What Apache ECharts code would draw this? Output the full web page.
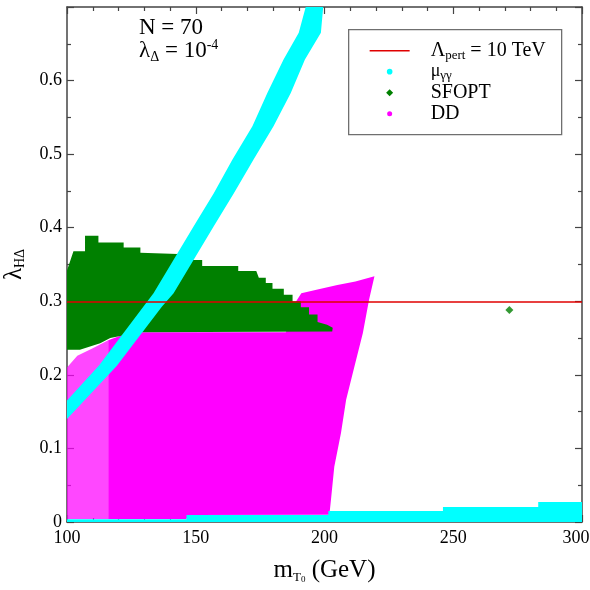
<!DOCTYPE html>
<html>
<head>
<meta charset="utf-8">
<script src="https://cdn.jsdelivr.net/npm/echarts@6/dist/echarts.min.js"></script>
<style>
  html, body { margin: 0; padding: 0; background: #fff; }
  #main { width: 590px; height: 590px; }
</style>
</head>
<body>
<div id="main"></div>
<script>
  // region outlines, [m_T0, lambda_HDelta]
  let muBand = [
    [100, 0.165], [112.5, 0.213], [129.7, 0.293], [133.6, 0.311], [141.4, 0.3565], [149.2, 0.402],
    [157, 0.447], [164.2, 0.4925], [172, 0.538], [177.8, 0.583], [184.1, 0.6286], [190, 0.665], [192.7, 0.7],
    [199.5, 0.7], [198.6, 0.665], [192.4, 0.6286], [186.9, 0.583], [180.2, 0.538], [172.4, 0.4925],
    [164.8, 0.447], [157, 0.402], [149.2, 0.3565], [141.4, 0.311], [136.9, 0.293], [119.3, 0.212], [100, 0.14]
  ];
  let muFloor = [
    [100, 0], [100, 0.0037], [146.4, 0.0037], [146.4, 0.0095], [201.5, 0.0095], [201.5, 0.015],
    [246, 0.015], [246, 0.0204], [283, 0.0204], [283, 0.0272], [300, 0.0272], [300, 0]
  ];
  let sfoptRegion = [
    [100, 0.234], [100, 0.342], [102.5, 0.368], [107, 0.368], [107, 0.389], [112.2, 0.389],
    [112.2, 0.38], [122, 0.38], [122, 0.373], [128.5, 0.373], [128.5, 0.366], [146, 0.364],
    [146, 0.356], [152.5, 0.356], [152.5, 0.348], [166.5, 0.348], [166.5, 0.341], [173.5, 0.341],
    [174.5, 0.332], [177.2, 0.332], [177.2, 0.325], [179.8, 0.325], [179.8, 0.317], [184.2, 0.317],
    [184.2, 0.309], [187.6, 0.309], [187.6, 0.3], [190.8, 0.3], [190.8, 0.292], [194, 0.292],
    [194, 0.282], [197.3, 0.282], [197.3, 0.272], [201, 0.268], [203.2, 0.264], [203, 0.259],
    [128, 0.258], [116.8, 0.25], [112.9, 0.243], [105, 0.234]
  ];
  let sfoptPoint = [[271.8, 0.288]];
  let ddDense = [
    [116, 0.004], [116, 0.247], [122, 0.255], [128, 0.258], [185, 0.258], [189, 0.3], [191, 0.311],
    [197.3, 0.316], [205, 0.322], [212, 0.327], [219.4, 0.334], [217.3, 0.302], [214.9, 0.257],
    [211.6, 0.211], [208.4, 0.166], [206.4, 0.121], [203.8, 0.075], [202.5, 0.03], [201.9, 0.01],
    [147, 0.0095], [146.4, 0.004]
  ];
  let ddSparse = [[100, 0.004], [100, 0.21], [104, 0.226], [110, 0.236], [116, 0.247], [116, 0.004]];
  let pertLimit = 0.298;
  let xTicks = [100, 300, 50];
  let yTicks = [0, 0.7, 0.1];

  let font = "Liberation Serif";
  let axisColor = "#444";

  let chart = echarts.init(document.getElementById("main"));

  // polygon through the axes, drawn once per series
  function region(name, pts, color, z, opacity) {
    return {
      type: "custom",
      name: name,
      z: z,
      clip: true,
      silent: true,
      data: pts,
      encode: { x: 0, y: 1 },
      renderItem: function (params, api) {
        if (params.dataIndex !== 0) return null;
        return {
          type: "polygon",
          shape: { points: pts.map((p) => api.coord(p)) },
          style: { fill: color, opacity: opacity == null ? 1 : opacity },
        };
      },
    };
  }

  function axisBase(pos, show) {
    return {
      type: "value",
      position: pos,
      axisLine: { show: true, onZero: false, lineStyle: { color: axisColor, width: 1.5 } },
      axisTick: { show: true, inside: true, length: 7, lineStyle: { color: axisColor, width: 1.2 } },
      minorTick: { show: true, length: 4, lineStyle: { color: axisColor, width: 1.2 } },
      splitLine: { show: false },
      minorSplitLine: { show: false },
      axisLabel: { show: show, color: "#000", fontFamily: font, fontSize: 18 },
    };
  }

  let xBottom = Object.assign(axisBase("bottom", true), {
    min: xTicks[0], max: xTicks[1], interval: xTicks[2],
    name: "{a|m}{s|T}{ss|0}{a| (GeV)}",
    nameLocation: "middle",
    nameGap: 34,
    nameTextStyle: {
      rich: {
        a: { fontFamily: font, fontSize: 25, lineHeight: 28, color: "#000" },
        s: { fontFamily: font, fontSize: 13, lineHeight: 10, verticalAlign: "bottom", color: "#000" },
        ss: { fontFamily: font, fontSize: 9, lineHeight: 5, verticalAlign: "bottom", color: "#000" },
      },
    },
  });
  xBottom.minorTick.splitNumber = 5;
  xBottom.axisLabel.margin = 7;
  xBottom.axisLabel.formatter = function (v) {
    return v === 300 ? "{r|300}" : String(v);
  };
  xBottom.axisLabel.rich = { r: { fontFamily: font, fontSize: 18, color: "#000", padding: [0, 12, 0, 0] } };

  let xTop = Object.assign(axisBase("top", false), { min: xTicks[0], max: xTicks[1], interval: xTicks[2] });
  xTop.minorTick.splitNumber = 5;

  let yLeft = Object.assign(axisBase("left", true), {
    min: yTicks[0], max: yTicks[1], interval: yTicks[2],
    name: "{a|λ}{s|HΔ}",
    nameLocation: "middle",
    nameRotate: 90,
    nameGap: 40,
    nameTextStyle: {
      rich: {
        a: { fontFamily: font, fontSize: 25, lineHeight: 26, color: "#000" },
        s: { fontFamily: font, fontSize: 14, lineHeight: 10, verticalAlign: "bottom", color: "#000" },
      },
    },
  });
  yLeft.minorTick.splitNumber = 2;
  yLeft.axisLabel.margin = 5;
  yLeft.axisLabel.showMaxLabel = false;

  let yRight = Object.assign(axisBase("right", false), { min: yTicks[0], max: yTicks[1], interval: yTicks[2] });
  yRight.minorTick.splitNumber = 2;

  let legendText = {
    a: { fontFamily: font, fontSize: 20, lineHeight: 22, fill: "#000" },
    s: { fontFamily: font, fontSize: 13, lineHeight: 9, verticalAlign: "bottom", fill: "#000" },
    m: { fontFamily: font, fontSize: 18, lineHeight: 20, fill: "#000" },
  };

  let option = {
    animation: false,
    backgroundColor: "#fff",
    grid: { left: 67, right: 8, top: 7, bottom: 68, outerBoundsMode: "none", containLabel: false },
    xAxis: [xBottom, xTop],
    yAxis: [yLeft, yRight],
    series: [
      region("DD sparse", ddSparse, "#ff00ff", 1, 0.72),
      region("DD", ddDense, "#ff00ff", 1),
      region("SFOPT", sfoptRegion, "#008000", 2),
      {
        type: "scatter",
        name: "SFOPT point",
        z: 2,
        data: sfoptPoint,
        symbol: "diamond",
        symbolSize: 8,
        itemStyle: { color: "#008000" },
        silent: true,
      },
      region("mu band", muBand, "#00ffff", 3),
      region("mu floor", muFloor, "#00ffff", 3),
      {
        type: "line",
        name: "pert",
        data: [],
        z: 5,
        markLine: {
          silent: true,
          symbol: ["none", "none"],
          label: { show: false },
          lineStyle: { color: "#e00000", width: 1.5, type: "solid" },
          data: [{ yAxis: pertLimit }],
        },
      },
    ],
    graphic: [
      {
        type: "text",
        left: 139,
        top: 16,
        style: { text: "N = 70", fontFamily: font, fontSize: 23, fill: "#000" },
      },
      {
        type: "text",
        left: 139,
        top: 38,
        style: {
          text: "{a|λ}{s|Δ}{a| = 10}{p|-4}",
          rich: {
            a: { fontFamily: font, fontSize: 23, lineHeight: 26, fill: "#000" },
            s: { fontFamily: font, fontSize: 14, lineHeight: 10, verticalAlign: "bottom", fill: "#000" },
            p: { fontFamily: font, fontSize: 14, lineHeight: 10, verticalAlign: "top", fill: "#000" },
          },
        },
      },
      {
        type: "group",
        left: 348,
        top: 29,
        children: [
          {
            type: "rect",
            shape: { x: 0, y: 0, width: 213, height: 105 },
            style: { fill: "#fff", stroke: "#6f6f6f", lineWidth: 1.3 },
          },
          {
            type: "line",
            shape: { x1: 21, y1: 21, x2: 61, y2: 21 },
            style: { stroke: "#e00000", lineWidth: 1.5 },
          },
          { type: "circle", shape: { cx: 41, cy: 42, r: 2.8 }, style: { fill: "#00ffff" } },
          {
            type: "polygon",
            shape: { points: [[41, 59.5], [44.5, 63], [41, 66.5], [37.5, 63]] },
            style: { fill: "#008000" },
          },
          { type: "circle", shape: { cx: 41, cy: 84, r: 2.5 }, style: { fill: "#ff00ff" } },
          {
            type: "text",
            x: 82,
            y: 21,
            style: { text: "{a|Λ}{s|pert}{a| = 10 TeV}", rich: legendText, verticalAlign: "middle" },
          },
          {
            type: "text",
            x: 82,
            y: 42,
            style: { text: "{m|μ}{s|γγ}", rich: legendText, verticalAlign: "middle" },
          },
          {
            type: "text",
            x: 82,
            y: 63,
            style: { text: "{a|SFOPT}", rich: legendText, verticalAlign: "middle" },
          },
          {
            type: "text",
            x: 82,
            y: 84,
            style: { text: "{a|DD}", rich: legendText, verticalAlign: "middle" },
          },
        ],
      },
    ],
  };

  chart.setOption(option);
</script>
</body>
</html>
